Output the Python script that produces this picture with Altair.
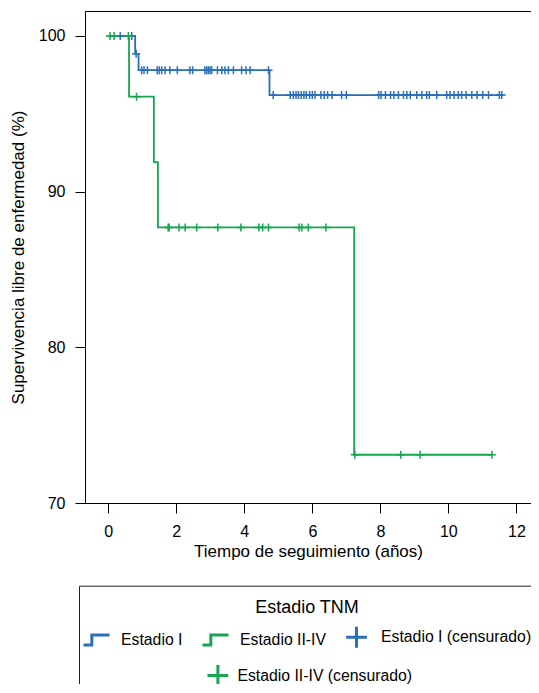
import altair as alt
import pandas as pd

BLUE = "#2a70b8"
GREEN = "#16a651"
FONT = "Liberation Sans"

# Kaplan-Meier steps (time in years, survival %)
t_I = [0, 0.79, 0.89, 4.74, 11.6]
s_I = [100, 98.85, 97.8, 96.2, 96.2]
t_II = [0, 0.61, 1.34, 1.46, 7.23, 11.28]
s_II = [100, 96.1, 91.9, 87.7, 73.1, 73.1]

# censored observations (time in years)
cens_I = [0.35, 0.69, 0.82, 0.98, 1.05, 1.15, 1.44, 1.5, 1.57, 1.67, 1.81, 2.03,
          2.4, 2.48, 2.84, 2.89, 2.94, 2.99, 3.04, 3.21, 3.34, 3.43, 3.53, 3.68,
          3.92, 4.05, 4.17, 4.71, 4.85, 5.35, 5.44, 5.52, 5.59, 5.67, 5.75, 5.82,
          5.92, 6.0, 6.08, 6.25, 6.35, 6.45, 6.58, 6.86, 7.0, 7.95, 8.02, 8.15,
          8.3, 8.4, 8.53, 8.68, 8.78, 8.88, 9.07, 9.22, 9.36, 9.44, 9.66, 9.95,
          10.05, 10.17, 10.29, 10.39, 10.52, 10.69, 10.84, 11.01, 11.18, 11.5, 11.57]
cens_II = [0.05, 0.17, 0.59, 0.83, 1.76, 1.79, 2.08, 2.26, 2.6, 3.22, 3.9, 4.43,
           4.54, 4.71, 5.61, 5.69, 5.88, 6.4, 7.25, 8.6, 9.17, 11.28]

G1 = "Estadio I"
G2 = "Estadio II-IV"
C1 = "Estadio I (censurado)"
C2 = "Estadio II-IV (censurado)"
PAD = " "  # invisible spacer entry that gives the legend box its second row

x_ticks = [0, 2, 4, 6, 8, 10, 12]
y_ticks = [70, 80, 90, 100]


def surv_at(t, times, survs):
    s = survs[0]
    for ti, si in zip(times, survs):
        if ti <= t:
            s = si
    return s


df_lines = pd.concat([
    pd.DataFrame({"t": t_I, "s": s_I, "grupo": G1}),
    pd.DataFrame({"t": t_II, "s": s_II, "grupo": G2}),
])
df_cens = pd.concat([
    pd.DataFrame({"t": cens_I, "s": [surv_at(t, t_I, s_I) for t in cens_I], "grupo": C1}),
    pd.DataFrame({"t": cens_II, "s": [surv_at(t, t_II, s_II) for t in cens_II], "grupo": C2}),
])

STEP = "M-1,0.38H-0.36V-0.38H1"
CROSS = "M-0.8,0H0.8M0,-0.8V0.8"

domain = [G1, G2, C1, C2, PAD]
color_scale = alt.Scale(domain=domain, range=[BLUE, GREEN, BLUE, GREEN, "transparent"])
shape_scale = alt.Scale(domain=domain, range=[STEP, STEP, CROSS, CROSS, "circle"])
opacity_scale = alt.Scale(domain=[C2, C1], range=[1, 1])

common = dict(
    labelFont=FONT,
    labelFontSize=15.8,
    labelColor="black",
    labelLimit=400,
    symbolSize=676,
    symbolStrokeWidth=3,
    symbolFillColor="transparent",
    symbolOpacity=1,
    orient="none",
)

legend_main = alt.Legend(
    title=["", "Estadio TNM"],
    titleLineHeight=10,
    values=[G1, G2, C1, PAD],
    legendX=-6,
    legendY=574.7,
    direction="horizontal",
    columns=3,
    columnPadding=13,
    rowPadding=11,
    padding=3,
    strokeColor="#222222",
    titleAnchor="middle",
    titleFont=FONT,
    titleFontSize=18,
    titleFontWeight="normal",
    titleColor="black",
    titlePadding=6,
    labelOffset=10,
    **common,
)

legend_second = alt.Legend(
    title="",
    values=[C2],
    legendX=118.4,
    legendY=650,
    padding=0,
    symbolType=CROSS,
    symbolStrokeColor=GREEN,
    labelOffset=5,
    **common,
)

xs = alt.Scale(domain=[-0.685, 12.43], nice=False, zero=False)
ys = alt.Scale(domain=[70, 101.6], nice=False, zero=False)

x_axis = alt.Axis(values=x_ticks, title="Tiempo de seguimiento (años)", tickSize=10,
                  labelPadding=10, titlePadding=4, labelFlush=False)
y_axis = alt.Axis(values=y_ticks, title="Supervivencia libre de enfermedad (%)", tickSize=10,
                  labelPadding=10, titlePadding=11, labelFlush=False)

lines = alt.Chart(df_lines).mark_line(interpolate="step-after", strokeWidth=1.8).encode(
    x=alt.X("t:Q", scale=xs, axis=x_axis),
    y=alt.Y("s:Q", scale=ys, axis=y_axis),
    color=alt.Color("grupo:N", scale=color_scale, legend=legend_main),
)

points = alt.Chart(df_cens).mark_point(filled=False, size=100, strokeWidth=1.5).encode(
    x=alt.X("t:Q", scale=xs, axis=x_axis),
    y=alt.Y("s:Q", scale=ys, axis=y_axis),
    color=alt.Color("grupo:N", scale=color_scale, legend=legend_main),
    shape=alt.Shape("grupo:N", scale=shape_scale, legend=legend_main),
    opacity=alt.Opacity("grupo:N", scale=opacity_scale, legend=legend_second),
)

chart = alt.layer(lines, points).properties(
    width=446,
    height=492,
    autosize=alt.AutoSizeParams(type="none"),
    padding={"left": 77, "top": 3, "right": 0, "bottom": 181},
).configure_view(
    stroke="black", strokeWidth=1
).configure_axis(
    grid=False,
    domainColor="black",
    domainWidth=1,
    tickColor="black",
    tickWidth=1,
    labelColor="black",
    titleColor="black",
    labelFont=FONT,
    titleFont=FONT,
    labelFontSize=16,
    titleFontSize=17,
    titleFontWeight="normal",
)

chart.save("out.html", embed_options={"renderer": "svg", "actions": False})
